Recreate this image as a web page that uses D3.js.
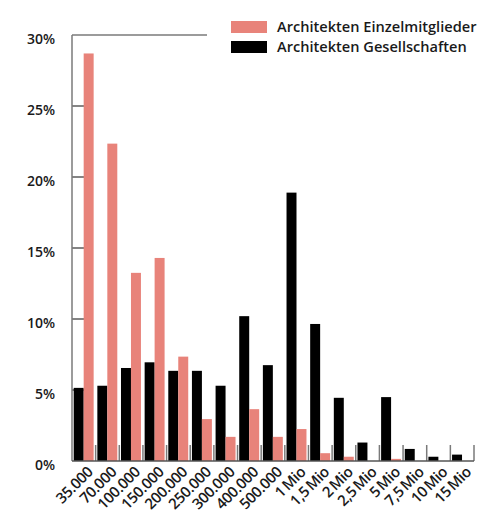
<!DOCTYPE html>
<html>
<head>
<meta charset="utf-8">
<script src="https://cdn.jsdelivr.net/npm/d3@7"></script>
<style>
  body { margin: 0; background: #fff; }
  text { font-family: "Open Sans", sans-serif; font-weight: 600; fill: #1a1a1a; }
</style>
</head>
<body>
<div id="chart"></div>
<script>
// Chart data
var categories = ["35.000", "70.000", "100.000", "150.000", "200.000", "250.000", "300.000",
  "400.000", "500.000", "1 Mio", "1,5 Mio", "2 Mio", "2,5 Mio", "5 Mio", "7,5 Mio", "10 Mio", "15 Mio"];
var gesellschaften = [5.15, 5.3, 6.55, 6.95, 6.35, 6.35, 5.3, 10.2, 6.75, 18.9, 9.65, 4.45, 1.3, 4.5, 0.85, 0.3, 0.45];
var einzelmitglieder = [28.7, 22.35, 13.25, 14.3, 7.35, 2.95, 1.7, 3.65, 1.7, 2.25, 0.55, 0.3, 0, 0.15, 0, 0, 0];
var yTicks = [0, 5, 10, 15, 20, 25, 30];
var seriesNames = ["Architekten Einzelmitglieder", "Architekten Gesellschaften"];

var pink = "#e8837a", black = "#000000", axisGray = "#7a7a7a";
var W = 480, H = 516;
var margin = { top: 35, right: 6, bottom: 55, left: 72 };

var svg = d3.select("#chart").append("svg")
  .attr("width", W).attr("height", H);

var x = d3.scaleBand().domain(categories).range([margin.left, W - margin.right]);
var x1 = d3.scaleBand().domain(["g", "e"]).range([1.7, x.bandwidth() - 2]);
var y = d3.scaleLinear().domain([0, 30]).range([H - margin.bottom, margin.top]);

// y ticks (short inward marks)
svg.append("g").selectAll("line").data(yTicks.slice(1, -1)).enter().append("line")
  .attr("x1", margin.left).attr("x2", margin.left + 12)
  .attr("y1", function (d) { return y(d); }).attr("y2", function (d) { return y(d); })
  .attr("stroke", "#333").attr("stroke-width", 1.2);

// y labels
svg.append("g").selectAll("text").data(yTicks).enter().append("text")
  .attr("x", 55).attr("y", function (d) { return y(d) + 4; })
  .attr("dy", "0.35em").attr("text-anchor", "end")
  .style("font-size", "14px")
  .text(function (d) { return d + "%"; });

// category separators
svg.append("g").selectAll("line").data(categories.slice(1).concat(["end"])).enter().append("line")
  .attr("x1", function (d, i) { return margin.left + (i + 1) * x.step(); })
  .attr("x2", function (d, i) { return margin.left + (i + 1) * x.step(); })
  .attr("y1", y(0)).attr("y2", y(0) - 16)
  .attr("stroke", axisGray).attr("stroke-width", 1.5);

// bars
var groups = svg.append("g").selectAll("g").data(categories).enter().append("g")
  .attr("transform", function (d) { return "translate(" + x(d) + ",0)"; });
groups.append("rect")
  .attr("x", x1("g")).attr("width", x1.bandwidth())
  .attr("y", function (d, i) { return y(gesellschaften[i]); })
  .attr("height", function (d, i) { return y(0) - y(gesellschaften[i]); })
  .attr("fill", black);
groups.append("rect")
  .attr("x", x1("e")).attr("width", x1.bandwidth())
  .attr("y", function (d, i) { return y(einzelmitglieder[i]); })
  .attr("height", function (d, i) { return y(0) - y(einzelmitglieder[i]); })
  .attr("fill", pink);

// axis lines
svg.append("line").attr("x1", margin.left).attr("x2", margin.left)
  .attr("y1", y(30)).attr("y2", y(0)).attr("stroke", axisGray).attr("stroke-width", 1.5);
svg.append("line").attr("x1", margin.left).attr("x2", W - margin.right)
  .attr("y1", y(0)).attr("y2", y(0)).attr("stroke", "#555").attr("stroke-width", 1.5);
svg.append("line").attr("x1", margin.left).attr("x2", 207)
  .attr("y1", y(30)).attr("y2", y(30)).attr("stroke", axisGray).attr("stroke-width", 1.5);

// x labels
svg.append("g").selectAll("text").data(categories).enter().append("text")
  .attr("transform", function (d) {
    return "translate(" + (x(d) + x.bandwidth() / 2 + 10) + "," + (y(0) + 12) + ") rotate(-45)";
  })
  .attr("text-anchor", "end")
  .style("font-size", "15px")
  .style("letter-spacing", "-0.4px")
  .style("word-spacing", "-1.5px")
  .text(function (d) { return d; });

// legend
var legend = svg.append("g").selectAll("g").data(seriesNames).enter().append("g")
  .attr("transform", function (d, i) { return "translate(231," + (21 + i * 20) + ")"; });
legend.append("rect").attr("width", 36).attr("height", 12)
  .attr("fill", function (d, i) { return i === 0 ? pink : black; });
legend.append("text").attr("x", 46).attr("y", 6).attr("dy", "0.35em")
  .style("font-size", "14.6px")
  .text(function (d) { return d; });
</script>
</body>
</html>
